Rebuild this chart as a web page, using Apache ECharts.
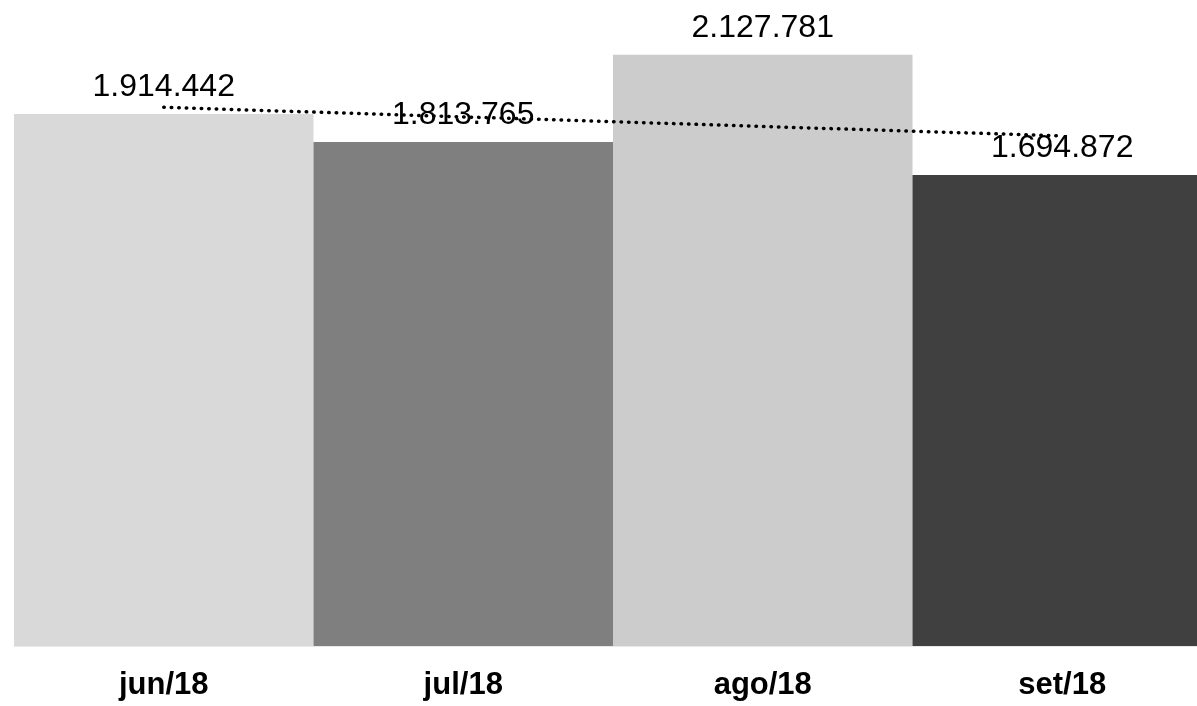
<!DOCTYPE html>
<html>
<head>
<meta charset="utf-8">
<script src="https://cdn.jsdelivr.net/npm/echarts@6/dist/echarts.min.js"></script>
<style>
html,body{margin:0;padding:0;background:#fff;}
#chart{width:1197px;height:706px;}
</style>
</head>
<body>
<div id="chart"></div>
<script>
var categories = ['jun/18', 'jul/18', 'ago/18', 'set/18'];
var barValues = [1914442, 1813765, 2127781, 1694872];
var barColors = ['#d9d9d9', '#7f7f7f', '#cccccc', '#404040'];
var trendValues = [1939000, 1904500, 1870000, 1836000];

function fmt(v) {
  return String(v).replace(/\B(?=(\d{3})+(?!\d))/g, '.');
}

var chart = echarts.init(document.getElementById('chart'));
chart.setOption({
  animation: false,
  backgroundColor: '#ffffff',
  grid: { left: 14, right: -15, top: 7, bottom: 60, containLabel: false, outerBoundsMode: 'none' },
  xAxis: {
    type: 'category',
    data: categories,
    axisLine: { show: true, lineStyle: { color: '#e8e8e8', width: 1 } },
    axisTick: { show: false },
    axisLabel: {
      color: '#000000',
      fontFamily: 'Liberation Sans, Arial, sans-serif',
      fontWeight: 'bold',
      fontSize: 31,
      margin: 24
    },
    splitLine: { show: false }
  },
  yAxis: {
    type: 'value',
    min: 0,
    max: 2300000,
    show: false,
    splitLine: { show: false }
  },
  series: [
    {
      type: 'bar',
      barCategoryGap: 0,
      data: barValues.map(function (v, i) {
        return { value: v, itemStyle: { color: barColors[i] } };
      }),
      label: {
        show: true,
        position: 'top',
        distance: 11,
        color: '#000000',
        fontFamily: 'Liberation Sans, Arial, sans-serif',
        fontSize: 32,
        formatter: function (p) { return fmt(p.value); }
      },
      z: 2
    },
    {
      type: 'line',
      data: trendValues,
      symbol: 'none',
      silent: true,
      lineStyle: { color: '#000000', width: 3.5, type: [0.5, 7], cap: 'round' },
      z: 3
    }
  ]
});
</script>
</body>
</html>
